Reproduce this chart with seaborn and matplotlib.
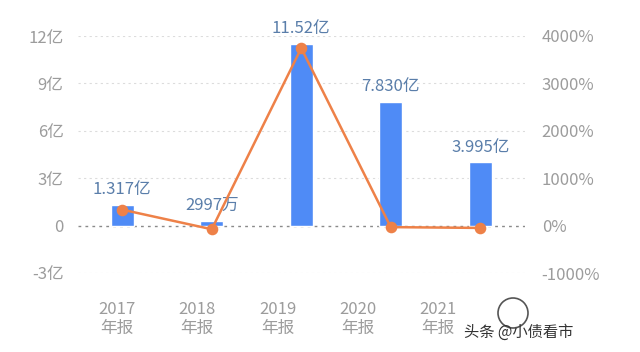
import matplotlib
matplotlib.use("Agg")
import matplotlib.pyplot as plt
from matplotlib.patches import Circle
import seaborn as sns
import numpy as np
import pandas as pd

years = ["2017\n年报", "2018\n年报", "2019\n年报", "2020\n年报", "2021\n年报"]
profit = [1.317, 0.2997, 11.52, 7.830, 3.995]          # 亿
profit_labels = ["1.317亿", "2997万", "11.52亿", "7.830亿", "3.995亿"]
growth = [336, -77.2, 3744, -32.0, -49.0]              # %
left_ticks = [-3, 0, 3, 6, 9, 12]
left_ticklabels = ["-3亿", "0", "3亿", "6亿", "9亿", "12亿"]
right_ticks = [-1000, 0, 1000, 2000, 3000, 4000]
right_ticklabels = ["-1000%", "0%", "1000%", "2000%", "3000%", "4000%"]

sns.set_theme(style="white")
plt.rcParams['font.family'] = ['Noto Sans CJK SC', 'DejaVu Sans']
plt.rcParams['font.weight'] = 'light'

BLUE = "#4F8BF6"
ORANGE = "#EE8148"
TICK = "#9c9c9c"
LABEL = "#5A7EAA"

df = pd.DataFrame({"year": years, "profit": profit, "growth": growth})

fig = plt.figure(figsize=(6.4, 3.52), dpi=100)
fig.patch.set_facecolor("white")
bottom = (352-273)/352
ax = fig.add_axes([77.5/640, bottom, (525-77.5)/640, (273-36)/352])

sns.barplot(data=df, x="year", y="profit", color=BLUE, width=0.26,
            saturation=1, ax=ax, zorder=3)
ax.set_ylim(-3, 12)
ax.set_xlim(-0.5, 4.5)
ax.set_yticks(left_ticks)
ax.set_yticklabels(left_ticklabels)
ax.set_xticklabels([])
for y in left_ticks:
    if y == 0:
        ax.axhline(y, color="#8a8a8a", lw=1.0, ls=(0, (2, 3)), zorder=2)
    else:
        ax.axhline(y, color="#dcdcdc", lw=0.8, ls=(0, (2, 3)), zorder=1)

for i, (v, lab) in enumerate(zip(profit, profit_labels)):
    ax.annotate(lab, (i, v), xytext=(0, 5), textcoords="offset points",
                ha="center", va="bottom", fontsize=12, color=LABEL, zorder=6)

ax.set_xlabel("")
ax.set_ylabel("")
ax.tick_params(axis="y", length=0, pad=10, labelsize=12, labelcolor=TICK)
ax.tick_params(axis="x", length=0)
for s in ax.spines.values():
    s.set_visible(False)

ax2 = ax.twinx()
sns.pointplot(data=df, x="year", y="growth", color=ORANGE, ax=ax2,
              markers="o", linewidth=1.8, markersize=7)
ax2.set_ylim(-1000, 4000)
ax2.set_xlim(-0.5, 4.5)
ax2.set_yticks(right_ticks)
ax2.set_yticklabels(right_ticklabels)
ax2.set_ylabel("")
ax2.set_xlabel("")
ax2.set_xticklabels([])
ax2.tick_params(axis="x", length=0)
ax2.tick_params(axis="y", length=0, pad=12, labelsize=12, labelcolor=TICK)
for s in ax2.spines.values():
    s.set_visible(False)

# category labels row (slightly narrower spacing, as in the reference)
ax3 = fig.add_axes([77/640, bottom, 401/640, 0.0001])
ax3.set_xlim(-0.5, 4.5)
ax3.set_xticks(range(len(years)))
ax3.set_xticklabels(years)
ax3.set_yticks([])
ax3.patch.set_visible(False)
ax3.tick_params(axis="x", length=0, pad=20, labelsize=12, labelcolor=TICK)
for s in ax3.spines.values():
    s.set_visible(False)

# watermark
fig.patches.append(Circle((5.13, (352-313)/100), 0.15, transform=fig.dpi_scale_trans,
                          fill=False, edgecolor="#555555", lw=1.2))
fig.text(573/640, 1-332/352, "头条 @小债看市", ha="right", va="center",
         fontsize=11, color="#333333", fontweight="normal")

fig.savefig("out.png", dpi=100, facecolor="white")
